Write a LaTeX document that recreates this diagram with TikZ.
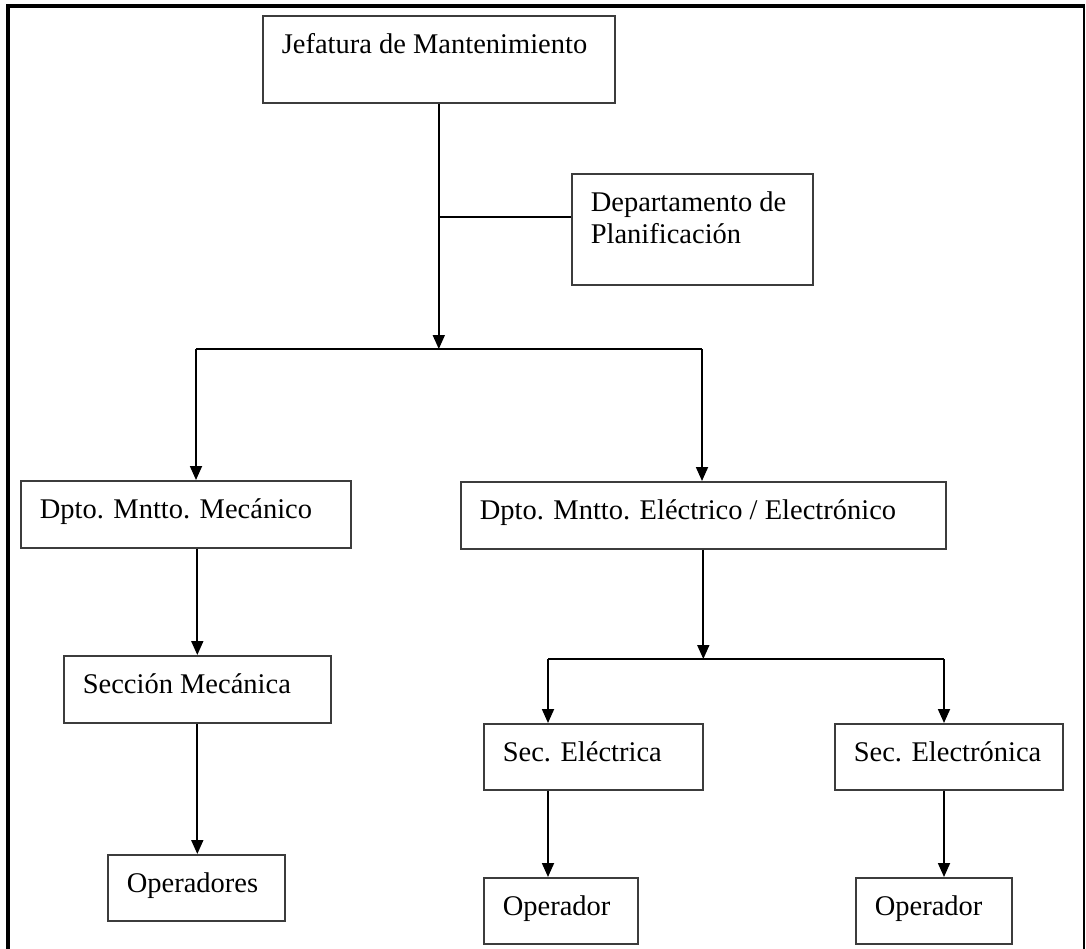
\documentclass[tikz,border=0pt]{standalone}
\usepackage{fontspec}
\setmainfont{Liberation Serif}
\usetikzlibrary{arrows.meta}
\definecolor{boxc}{HTML}{3C3C3C}
\newcommand{\boxtxt}[2]{\makebox[#1][l]{\hspace*{19pt}#2}}
\begin{document}
\begin{tikzpicture}[x=1pt,y=-1pt,
  orgbox/.style={draw=boxc, line width=1.6pt, inner sep=0pt, anchor=north west,
    text height=38pt, font=\fontsize{28.5}{32}\selectfont},
  conn/.style={line width=1.8pt, draw=black},
  arr/.style={conn, -{Triangle[width=12pt,length=14pt]}},
  frameline/.style={line width=3.5pt, draw=black}]
\useasboundingbox (0,0) rectangle (1086,949);
% outer frame
\draw[frameline] (8,960) -- (8,5.8) -- (1085.3,5.8);
\draw[line width=2pt] (1084.3,5.8) -- (1084.3,960);
% boxes
\node[orgbox, text depth=49pt] (jef) at (262,15) {\boxtxt{352pt}{Jefatura de Mantenimiento}};
\node[orgbox, text depth=73pt] (plan) at (571,173) {\boxtxt{241pt}{\begin{tabular}[t]{@{}l@{}}Departamento de\\Planificación\end{tabular}}};
\node[orgbox, text depth=29pt] (dmec) at (20,480) {\boxtxt{330pt}{Dpto. Mntto. Mecánico}};
\node[orgbox, text depth=29pt] (delec) at (460,481) {\boxtxt{485pt}{Dpto. Mntto. Eléctrico / Electrónico}};
\node[orgbox, text depth=29pt] (smec) at (63,655) {\boxtxt{267pt}{Sección Mecánica}};
\node[orgbox, text depth=28pt] (sele) at (483,723) {\boxtxt{219pt}{Sec. Eléctrica}};
\node[orgbox, text depth=28pt] (selo) at (834,723) {\boxtxt{228pt}{Sec. Electrónica}};
\node[orgbox, text depth=28pt] (ops) at (107,854) {\boxtxt{177pt}{Operadores}};
\node[orgbox, text depth=28pt] (op1) at (483,877) {\boxtxt{154pt}{Operador}};
\node[orgbox, text depth=28pt] (op2) at (855,877) {\boxtxt{156pt}{Operador}};
% junction points
\coordinate (ml) at (196,349);
\coordinate (mr) at (702,349);
\coordinate (pj) at (438,217);
\coordinate (bl) at (548,659);
\coordinate (br) at (944,659);
% connectors
\draw[arr] (jef.south) -- (jef.south |- ml);
\draw[conn] (pj) -- (pj -| plan.west);
\draw[conn] (ml) -- (mr);
\draw[arr] (ml) -- (ml |- dmec.north);
\draw[arr] (mr) -- (mr |- delec.north);
\draw[arr] (dmec.south -| smec.north) -- (smec.north);
\draw[arr] (smec.south) -- (smec.south |- ops.north);
\draw[arr] (delec.south) -- (delec.south |- bl);
\draw[conn] (bl) -- (br);
\draw[arr] (bl) -- (bl |- sele.north);
\draw[arr] (br) -- (br |- selo.north);
\draw[arr] (sele.south -| bl) -- (bl |- op1.north);
\draw[arr] (selo.south -| br) -- (br |- op2.north);
\end{tikzpicture}
\end{document}
